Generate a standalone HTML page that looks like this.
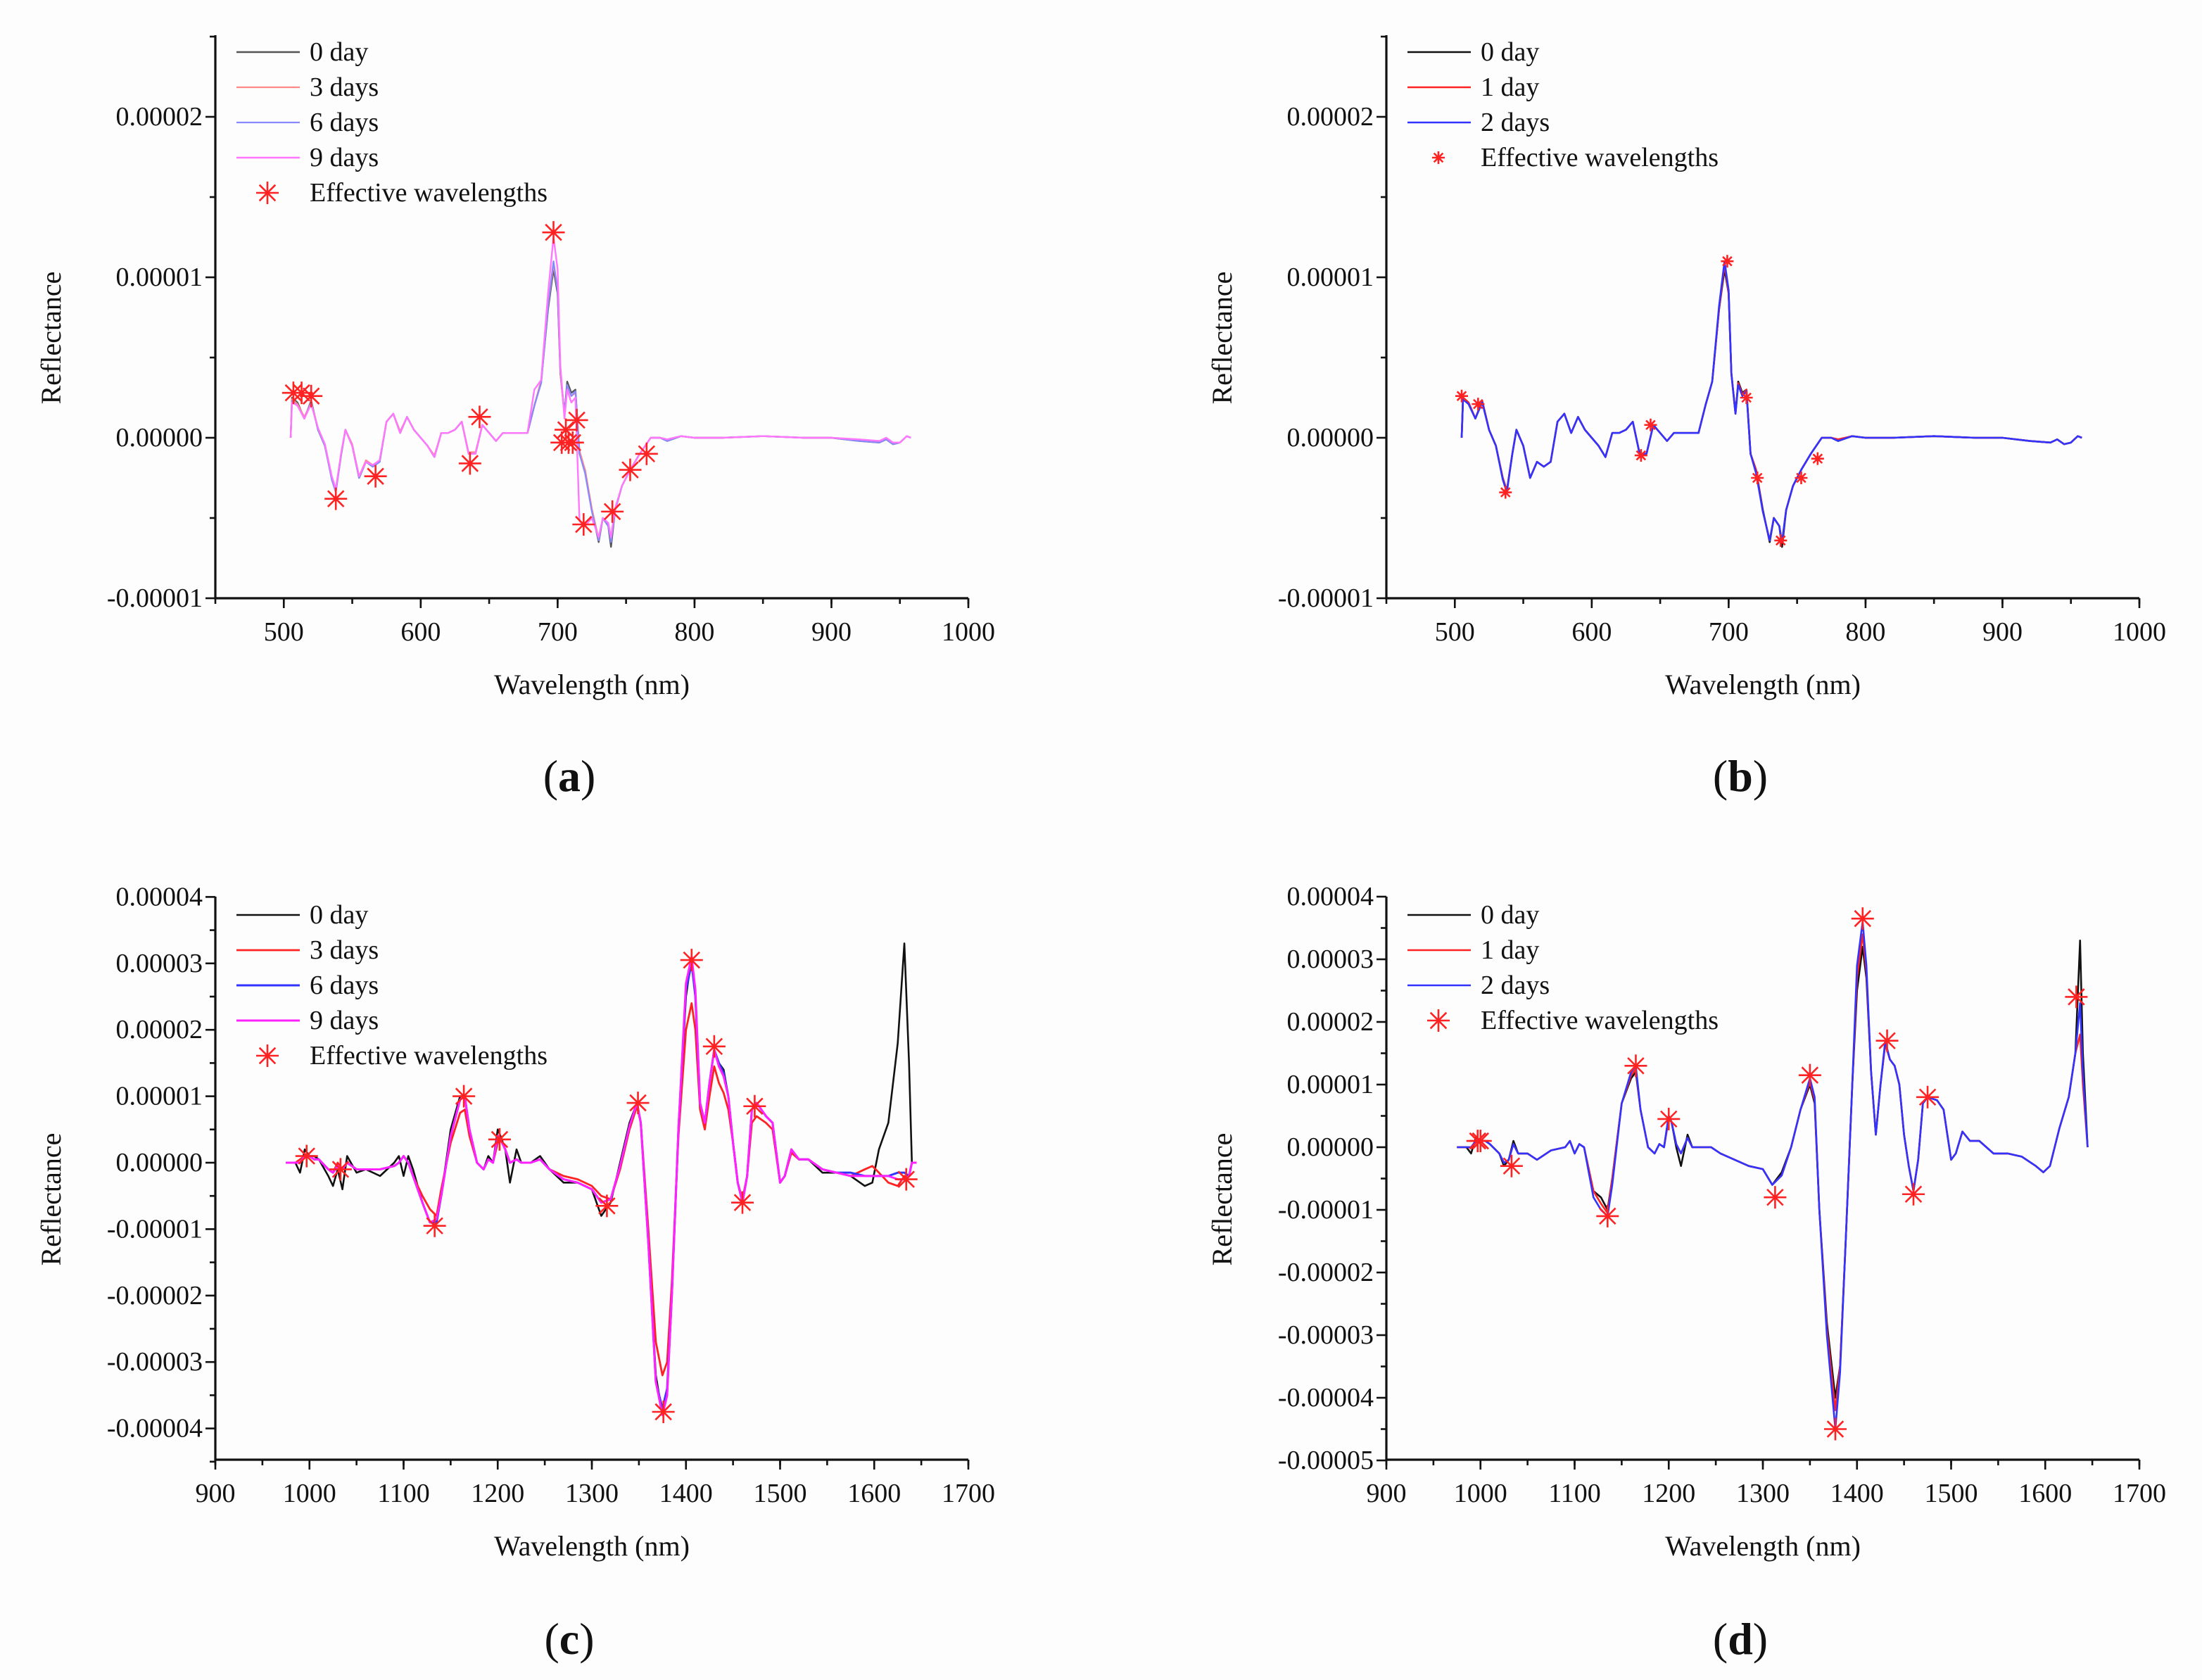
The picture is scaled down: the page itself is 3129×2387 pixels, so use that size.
<!DOCTYPE html>
<html><head><meta charset="utf-8">
<style>
html,body{margin:0;padding:0;background:#fdfdfd;}
svg{display:block;}
text{font-family:"Liberation Serif","Times New Roman",serif;}
</style></head>
<body>
<svg id="fig" width="3129" height="2387" viewBox="0 0 1564.5 1193.5" font-family="Liberation Serif, serif" xmlns="http://www.w3.org/2000/svg">
<rect x="0" y="0" width="1564.5" height="1193.5" fill="#fdfdfd"/>
</svg>
<script>
// ---------- Panel A data (wavelength nm, reflectance x1e-6) ----------
const wlA = [505,506,510,515,520,525,530,535,538,542,545,550,555,560,565,570,575,580,585,590,595,600,605,610,615,620,625,630,635,640,645,650,655,660,670,678,683,688,693,697,700,702,705,707,710,713,716,720,725,730,733,737,739,742,747,753,760,768,775,780,790,800,820,850,880,900,920,935,940,945,950,955,958];
const a0 = [0,2.5,2.2,1.2,2.3,0.5,-0.5,-2.5,-3.3,-1,0.5,-0.5,-2.5,-1.5,-1.8,-1.5,1,1.5,0.3,1.3,0.5,0,-0.5,-1.2,0.3,0.3,0.5,1,-1,-1,0.8,0.3,-0.2,0.3,0.3,0.3,2,3.5,8,10.5,9,4,1.5,3.5,2.8,3,-1,-2,-4.5,-6.5,-5,-5.5,-6.8,-4.5,-3,-2,-1,0,0,-0.2,0.1,0,0,0.1,0,0,-0.2,-0.3,-0.1,-0.4,-0.3,0.1,0];
const a3 = [0,2.4,2.1,1.3,2.2,0.6,-0.4,-2.4,-3.2,-0.9,0.5,-0.4,-2.4,-1.4,-1.7,-1.4,1,1.5,0.4,1.3,0.5,0,-0.5,-1.1,0.3,0.3,0.5,1,-0.9,-0.9,0.8,0.3,-0.2,0.3,0.3,0.3,2,3.6,8.2,10.8,9.2,4,1.4,3.2,2.6,2.8,-0.8,-2,-4.4,-6.3,-5,-5.4,-6.4,-4.4,-3,-2,-1,0,0,-0.1,0.1,0,0,0.1,0,0,-0.1,-0.2,0,-0.3,-0.3,0.1,0];
const a6 = [0,2.3,2.0,1.2,2.2,0.5,-0.5,-2.6,-3.4,-1,0.5,-0.5,-2.5,-1.5,-1.8,-1.5,1,1.5,0.3,1.3,0.5,0,-0.5,-1.2,0.3,0.3,0.5,1,-1,-1,0.8,0.3,-0.2,0.3,0.3,0.3,2,3.4,8.2,11,9.2,4.2,1.5,3.3,2.6,2.9,-1,-2.2,-4.6,-6.4,-5,-5.5,-6.5,-4.5,-3,-2,-1,0,0,-0.2,0.1,0,0,0.1,0,0,-0.2,-0.3,-0.1,-0.4,-0.3,0.1,0];
const a9 = [0,2.2,2.0,1.2,2.1,0.6,-0.4,-2.4,-3.2,-0.9,0.5,-0.5,-2.4,-1.5,-1.7,-1.4,1,1.5,0.3,1.3,0.5,0,-0.5,-1.2,0.3,0.3,0.5,1,-1,-1,0.8,0.3,-0.2,0.3,0.3,0.3,3,3.6,9,12.5,10.5,4.5,1.2,3,2.2,2.5,-5.2,-5.5,-5,-6.2,-5,-5.3,-6.2,-4.4,-3,-2,-1,0,0,-0.1,0.1,0,0,0.1,0,0,-0.1,-0.2,0,-0.3,-0.3,0.1,0];
const starWlA = [507,513,520,538,567,636,643,697,703,706,708,711,714,719,740,753,765];
const starA = [2.8,2.8,2.6,-3.8,-2.4,-1.6,1.3,12.8,-0.3,0.5,-0.3,-0.3,1.1,-5.4,-4.6,-2,-1];

// ---------- Panel B data ----------
const wlB = wlA;
const b0 = a0;
const b1 = [0,2.5,2.2,1.2,2.3,0.5,-0.5,-2.5,-3.3,-1,0.5,-0.5,-2.5,-1.5,-1.8,-1.5,1,1.5,0.3,1.3,0.5,0,-0.5,-1.2,0.3,0.3,0.5,1,-1,-1,0.8,0.3,-0.2,0.3,0.3,0.3,2,3.5,8,10.8,9,4,1.5,3.4,2.7,3,-1,-2,-4.6,-6.4,-5,-5.5,-6.5,-4.5,-3,-2,-1,0,0,-0.1,0.1,0,0,0.1,0,0,-0.2,-0.3,-0.1,-0.4,-0.3,0.1,0];
const b2 = [0,2.4,2.1,1.2,2.2,0.5,-0.5,-2.6,-3.4,-1,0.5,-0.5,-2.5,-1.5,-1.8,-1.5,1,1.5,0.3,1.3,0.5,0,-0.5,-1.2,0.3,0.3,0.5,1,-1,-1,0.8,0.3,-0.2,0.3,0.3,0.3,2,3.5,8.2,11,9.2,4,1.5,3.3,2.6,2.9,-1,-2.2,-4.6,-6.4,-5,-5.5,-6.5,-4.5,-3,-2,-1,0,0,-0.2,0.1,0,0,0.1,0,0,-0.2,-0.3,-0.1,-0.4,-0.3,0.1,0];
const starWlB = [505,517,537,636,643,699,713,721,738,753,765];
const starB = [2.6,2.1,-3.4,-1.1,0.8,11,2.5,-2.5,-6.4,-2.5,-1.3];

// ---------- Panel C data (x1e-5) ----------
const wlC = [975,985,990,995,1000,1005,1010,1020,1025,1030,1035,1040,1050,1060,1075,1090,1095,1100,1105,1110,1120,1128,1135,1140,1150,1160,1165,1170,1178,1185,1190,1195,1200,1203,1208,1213,1220,1225,1235,1245,1255,1270,1285,1300,1310,1320,1330,1340,1348,1352,1360,1368,1375,1380,1385,1392,1400,1406,1410,1415,1420,1425,1430,1435,1440,1445,1450,1455,1460,1465,1470,1475,1485,1492,1500,1505,1512,1520,1530,1545,1560,1575,1590,1598,1605,1615,1625,1632,1637,1640,1645];
const c0 = [0,0,-0.15,0.2,0.1,0.1,0.05,-0.2,-0.35,-0.1,-0.4,0.1,-0.15,-0.1,-0.2,0,0.1,-0.2,0.1,-0.1,-0.6,-0.9,-0.9,-0.5,0.5,1.0,1.0,0.5,0,-0.1,0.1,0,0.5,0.4,0.2,-0.3,0.2,0,0,0.1,-0.1,-0.3,-0.3,-0.4,-0.8,-0.6,0,0.6,0.9,0.6,-1.2,-3.2,-3.8,-3.5,-2,0.5,2.5,3.1,2.5,0.8,0.6,1.2,1.7,1.5,1.4,1.0,0.3,-0.3,-0.6,-0.2,0.8,0.9,0.7,0.6,-0.3,-0.2,0.2,0.05,0.05,-0.15,-0.15,-0.2,-0.35,-0.3,0.2,0.6,1.8,3.3,1.5,0,0];
const c3 = [0,0,0.05,0.1,0.1,0.05,0.05,-0.1,-0.15,0,-0.1,0,-0.1,-0.1,-0.1,-0.05,0,0.1,0,-0.2,-0.5,-0.7,-0.8,-0.4,0.3,0.75,0.8,0.4,0,-0.1,0.05,0,0.3,0.35,0.2,0,0.05,0,0,0.05,-0.1,-0.2,-0.25,-0.35,-0.5,-0.55,-0.1,0.5,0.85,0.6,-1,-2.7,-3.2,-3.0,-1.8,0.4,2.0,2.4,2.0,0.8,0.5,1.0,1.45,1.2,1.05,0.8,0.3,-0.3,-0.55,-0.2,0.6,0.7,0.6,0.5,-0.3,-0.2,0.15,0.05,0.05,-0.1,-0.15,-0.2,-0.1,-0.05,-0.15,-0.3,-0.35,-0.2,-0.2,0,0];
const c6 = [0,0,0,0.1,0.1,0.05,0.05,-0.1,-0.15,-0.05,-0.1,0,-0.1,-0.1,-0.1,-0.05,0,0.1,0,-0.2,-0.6,-0.9,-0.9,-0.5,0.4,0.95,1.0,0.5,0,-0.1,0.05,0,0.4,0.35,0.2,0,0.05,0,0,0.05,-0.1,-0.25,-0.3,-0.4,-0.6,-0.55,-0.05,0.55,0.9,0.6,-1.2,-3.3,-3.7,-3.4,-2,0.5,2.6,3.0,2.5,0.9,0.6,1.2,1.7,1.5,1.35,1.0,0.3,-0.3,-0.6,-0.2,0.8,0.9,0.7,0.6,-0.3,-0.2,0.2,0.05,0.05,-0.1,-0.15,-0.15,-0.2,-0.2,-0.2,-0.2,-0.15,-0.15,-0.2,0,0];
const c9 = [0,0,0,0.1,0.1,0.05,0.05,-0.1,-0.15,-0.05,-0.1,0,-0.1,-0.1,-0.1,-0.05,0,0.1,0,-0.2,-0.6,-0.9,-0.85,-0.5,0.4,0.95,1.0,0.5,0,-0.1,0.05,0,0.4,0.35,0.2,0,0.05,0,0,0.05,-0.1,-0.25,-0.3,-0.4,-0.6,-0.55,-0.05,0.55,0.9,0.6,-1.2,-3.3,-3.8,-3.5,-2,0.5,2.7,3.1,2.6,0.9,0.6,1.2,1.7,1.45,1.3,1.0,0.3,-0.3,-0.6,-0.2,0.8,0.9,0.7,0.6,-0.3,-0.2,0.2,0.05,0.05,-0.1,-0.15,-0.2,-0.2,-0.2,-0.2,-0.2,-0.25,-0.25,-0.2,0,0];
const starWlC = [997,1033,1133,1164,1202,1316,1349,1376,1406,1430,1460,1473,1634];
const starC = [0.1,-0.1,-0.95,1.0,0.35,-0.65,0.9,-3.75,3.05,1.75,-0.6,0.85,-0.25];

// ---------- Panel D data (x1e-5) ----------
const wlD = [975,985,990,995,1000,1005,1010,1020,1025,1030,1035,1040,1050,1060,1075,1090,1095,1100,1105,1110,1120,1128,1135,1140,1150,1160,1165,1170,1178,1185,1190,1195,1200,1203,1208,1213,1220,1225,1235,1245,1255,1270,1285,1300,1310,1320,1330,1340,1350,1355,1360,1368,1377,1382,1388,1395,1400,1406,1410,1415,1420,1425,1430,1435,1440,1445,1450,1455,1460,1465,1470,1475,1485,1492,1500,1505,1512,1520,1530,1545,1560,1575,1590,1598,1605,1615,1625,1632,1637,1640,1645];
const d0 = [0,0,-0.1,0.15,0.1,0.1,0.05,-0.1,-0.3,-0.2,0.1,-0.1,-0.1,-0.2,-0.05,0,0.1,-0.1,0.05,0,-0.7,-0.8,-1.0,-0.5,0.7,1.1,1.2,0.6,0,-0.1,0.05,0,0.5,0.4,0,-0.3,0.2,0,0,0,-0.1,-0.2,-0.3,-0.35,-0.6,-0.4,0,0.6,1.0,0.7,-1,-2.8,-4.0,-3.5,-1.5,1,2.5,3.2,2.7,1.2,0.2,1.0,1.65,1.4,1.3,1.0,0.2,-0.3,-0.7,-0.2,0.7,0.8,0.75,0.6,-0.2,-0.1,0.25,0.1,0.1,-0.1,-0.1,-0.15,-0.3,-0.4,-0.3,0.3,0.8,1.5,3.3,1.5,0];
const d1 = [0,0,0,0.1,0.1,0.1,0.05,-0.1,-0.25,-0.2,0.05,-0.1,-0.1,-0.2,-0.05,0,0.1,-0.1,0.05,0,-0.7,-0.9,-1.05,-0.5,0.7,1.15,1.25,0.6,0,-0.1,0.05,0,0.45,0.4,0.05,-0.1,0.15,0,0,0,-0.1,-0.2,-0.3,-0.35,-0.6,-0.45,0,0.6,1.05,0.75,-1,-2.9,-4.2,-3.5,-1.5,1,2.7,3.4,2.8,1.2,0.2,1.0,1.65,1.4,1.3,1.0,0.2,-0.3,-0.7,-0.2,0.7,0.8,0.75,0.6,-0.2,-0.1,0.25,0.1,0.1,-0.1,-0.1,-0.15,-0.3,-0.4,-0.3,0.3,0.8,1.5,1.8,1.0,0];
const d2 = [0,0,0,0.1,0.1,0.1,0.05,-0.1,-0.25,-0.2,0.05,-0.1,-0.1,-0.2,-0.05,0,0.1,-0.1,0.05,0,-0.8,-1.0,-1.1,-0.6,0.7,1.2,1.3,0.6,0,-0.1,0.05,0,0.5,0.4,0.05,-0.1,0.15,0,0,0,-0.1,-0.2,-0.3,-0.35,-0.6,-0.45,0,0.6,1.1,0.8,-1,-3.0,-4.5,-3.6,-1.5,1,2.9,3.6,2.9,1.2,0.2,1.0,1.7,1.4,1.3,1.0,0.2,-0.3,-0.7,-0.2,0.7,0.8,0.75,0.6,-0.2,-0.1,0.25,0.1,0.1,-0.1,-0.1,-0.15,-0.3,-0.4,-0.3,0.3,0.8,1.5,2.3,1.2,0];
const starWlD = [997,1000,1033,1135,1165,1200,1313,1350,1377,1406,1432,1460,1475,1633];
const starD = [0.1,0.1,-0.3,-1.1,1.3,0.45,-0.8,1.15,-4.5,3.65,1.7,-0.75,0.8,2.4];

const xTicksA = ["500","600","700","800","900","1000"];
const yTicksA = ["-0.00001","0.00000","0.00001","0.00002"];
const xTicksC = ["900","1000","1100","1200","1300","1400","1500","1600","1700"];
const yTicksC = ["-0.00004","-0.00003","-0.00002","-0.00001","0.00000","0.00001","0.00002","0.00003","0.00004"];
const yTicksD = ["-0.00005","-0.00004","-0.00003","-0.00002","-0.00001","0.00000","0.00001","0.00002","0.00003","0.00004"];

const NS = "http://www.w3.org/2000/svg";
const svg = document.getElementById('fig');
const FF = '"Liberation Serif", serif';
function mk(tag, attrs, parent){
  const e = document.createElementNS(NS, tag);
  for (const k in attrs) e.setAttribute(k, attrs[k]);
  if (tag === 'text') e.setAttribute('font-family', FF);
  (parent||svg).appendChild(e);
  return e;
}

function panel(cfg){
  const g = mk('g', {});
  
  
  const L = cfg.left, R = cfg.right, B = cfg.bottom, T = cfg.top;
  const sx = v => L + (v - cfg.xmin) / (cfg.xmax - cfg.xmin) * (R - L);
  const sy = v => cfg.y0 - v * cfg.yScale;
  const ax = mk('path', {d:`M${L},${T} L${L},${B} L${R},${B}`, stroke:'#111', 'stroke-width':1.6, fill:'none'}, g);
  
  
  for (let v = cfg.xmin; v <= cfg.xmax + 0.01; v += cfg.xStep/2){
    mk('line', {x1:sx(v), x2:sx(v), y1:B, y2:B + 4, stroke:'#111', 'stroke-width':1.3}, g);
  }
  cfg.xLabels.forEach((t, i) => {
    const v = cfg.xFirst + i * cfg.xStep;
    mk('line', {x1:sx(v), x2:sx(v), y1:B, y2:B + 7, stroke:'#111', 'stroke-width':1.3}, g);
    const tx = mk('text', {x:sx(v), y:B + 30, 'font-size':19, 'text-anchor':'middle', fill:'#111'}, g);
    tx.textContent = t;
    
    
  });
  cfg.yLabels.forEach((t, i) => {
    const v = cfg.yFirst + i * cfg.yStep;
    mk('line', {x1:L - 7, x2:L, y1:sy(v), y2:sy(v), stroke:'#111', 'stroke-width':1.3}, g);
    if (sy(v + cfg.yStep/2) >= T - 1) mk('line', {x1:L - 4, x2:L, y1:sy(v + cfg.yStep/2), y2:sy(v + cfg.yStep/2), stroke:'#111', 'stroke-width':1.3}, g);
    const tx = mk('text', {x:L - 9, y:sy(v) + 6, 'font-size':19, 'text-anchor':'end', fill:'#111'}, g);
    tx.textContent = t;
    
    
  });
  if (cfg.yMinorBelow) mk('line', {x1:L - 4, x2:L, y1:sy(cfg.yFirst - cfg.yStep/2), y2:sy(cfg.yFirst - cfg.yStep/2), stroke:'#111', 'stroke-width':1.3}, g);
  const xt = mk('text', {x:(L + R)/2, y:B + 68, 'font-size':20, 'text-anchor':'middle', fill:'#111'}, g);
  xt.textContent = 'Wavelength (nm)';
  
  
  const yt = mk('text', {x:0, y:0, 'font-size':20, 'text-anchor':'middle', fill:'#111', transform:`translate(${L - 110},${cfg.titleY}) rotate(-90)`}, g);
  yt.textContent = 'Reflectance';
  
  
  cfg.series.forEach(s => {
    let d = '';
    s.wl.forEach((w, i) => { d += (i ? 'L' : 'M') + sx(w).toFixed(2) + ',' + sy(s.v[i]).toFixed(2); });
    const p = mk('path', {d:d, stroke:s.color, 'stroke-width':s.w || 1.3, fill:'none', 'stroke-linejoin':'round'}, g);
    
    
  });
  const star = (x, y, r, parent) => {
    const sg = mk('g', {stroke:'#f22', 'stroke-width':1.3}, parent);
    for (let k = 0; k < 4; k++){
      const a = k * Math.PI / 4;
      mk('line', {x1:x - r*Math.sin(a), y1:y - r*Math.cos(a), x2:x + r*Math.sin(a), y2:y + r*Math.cos(a)}, sg);
    }
    return sg;
  };
  cfg.starWl.forEach((w, i) => {
    const s = star(sx(w), sy(cfg.starV[i]), cfg.starR, g);
    
    
  });
  const lg = mk('g', {}, g);
  
  
  cfg.series.forEach((s, i) => {
    const y = cfg.legY + i * 25;
    mk('line', {x1:L + 15, x2:L + 60, y1:y, y2:y, stroke:s.color, 'stroke-width':s.w || 1.3}, lg);
    const t = mk('text', {x:L + 67, y:y + 6, 'font-size':19, fill:'#111'}, lg);
    t.textContent = s.name;
    
    
  });
  const yy = cfg.legY + cfg.series.length * 25;
  star(L + 37, yy, cfg.starR, lg);
  const t = mk('text', {x:L + 67, y:yy + 6, 'font-size':19, fill:'#111'}, lg);
  t.textContent = 'Effective wavelengths';
  
  
  const pl = mk('text', {x:(L + R)/2 - 16, y:cfg.letterY, 'font-size':32, 'text-anchor':'middle', fill:'#111'}, g);
  pl.innerHTML = '(<tspan font-weight="bold">' + cfg.id + '</tspan>)';
  
  
}

const ya = {yScale:11.4, yFirst:-10, yStep:10, yLabels:yTicksA, xmin:450, xmax:1000, xFirst:500, xStep:100, xLabels:xTicksA, top:25, bottom:425, titleY:240, legY:37, letterY:562};
panel(Object.assign({}, ya, {id:'a', left:153, right:688, y0:311, starWl:starWlA, starV:starA, starR:8,
  series:[{name:'0 day',wl:wlA,v:a0,color:'#555',w:1.2},{name:'3 days',wl:wlA,v:a3,color:'#f88',w:1.1},{name:'6 days',wl:wlA,v:a6,color:'#88f',w:1.1},{name:'9 days',wl:wlA,v:a9,color:'#f7f',w:1.2}]}));
panel(Object.assign({}, ya, {id:'b', left:985, right:1520, y0:311, starWl:starWlB, starV:starB, starR:4.5,
  series:[{name:'0 day',wl:wlB,v:b0,color:'#111',w:1.3},{name:'1 day',wl:wlB,v:b1,color:'#f22',w:1.3},{name:'2 days',wl:wlB,v:b2,color:'#33f',w:1.3}]}));
const yc = {xmin:900, xmax:1700, xFirst:900, xStep:100, xLabels:xTicksC, top:637, bottom:1037, titleY:852, legY:650, letterY:1175};
panel(Object.assign({}, yc, {id:'c', left:153, right:688, y0:826, yScale:47.2, yFirst:-4, yStep:1, yLabels:yTicksC, yMinorBelow:true, starWl:starWlC, starV:starC, starR:8,
  series:[{name:'0 day',wl:wlC,v:c0,color:'#111',w:1.3},{name:'3 days',wl:wlC,v:c3,color:'#f22',w:1.4},{name:'6 days',wl:wlC,v:c6,color:'#33f',w:1.5},{name:'9 days',wl:wlC,v:c9,color:'#f2f',w:1.5}]}));
panel(Object.assign({}, yc, {id:'d', left:985, right:1520, y0:815, yScale:44.5, yFirst:-5, yStep:1, yLabels:yTicksD, starWl:starWlD, starV:starD, starR:8,
  series:[{name:'0 day',wl:wlD,v:d0,color:'#111',w:1.3},{name:'1 day',wl:wlD,v:d1,color:'#f22',w:1.3},{name:'2 days',wl:wlD,v:d2,color:'#33f',w:1.3}]}));
</script>
</body></html>
